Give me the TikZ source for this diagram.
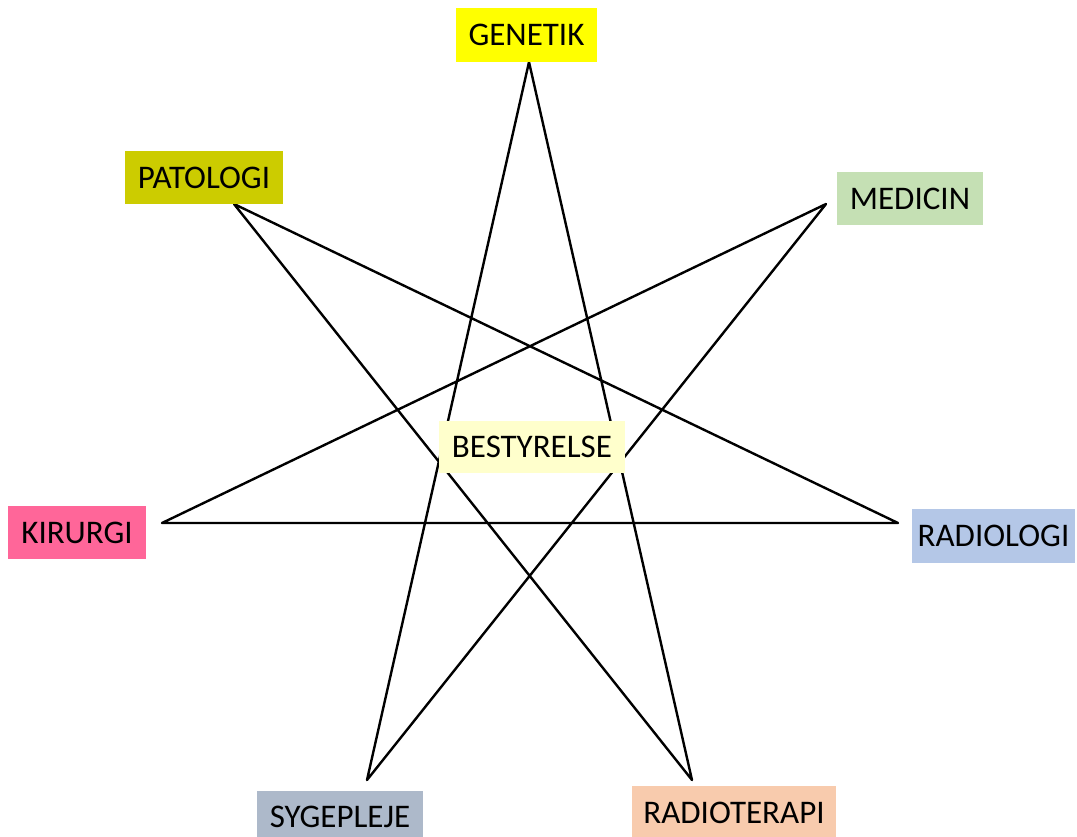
\documentclass[tikz,border=0pt]{standalone}
\usepackage{fontspec}
\setmainfont{Carlito}
\usepackage{xcolor}
\usetikzlibrary{positioning}

\definecolor{genetikfill}{HTML}{FFFF00}
\definecolor{patologifill}{HTML}{CCCC00}
\definecolor{medicinfill}{HTML}{C5E0B4}
\definecolor{kirurgifill}{HTML}{FF6699}
\definecolor{radiologifill}{HTML}{B4C7E7}
\definecolor{sygeplejefill}{HTML}{ADB9CA}
\definecolor{radioterapifill}{HTML}{F8CBAD}
\definecolor{bestyrelsefill}{HTML}{FFFFCC}

\begin{document}
\begin{tikzpicture}[x=1pt,y=-1pt]
  \tikzset{
    dept/.style={
      inner sep=0pt, text height=21pt, text depth=0pt,
      font=\fontsize{33}{38}\selectfont
    },
    starline/.style={line width=2.4pt, line join=round},
  }
  \useasboundingbox (0,0) rectangle (1077,836);

  \coordinate (top) at (529,62);
  \coordinate (ul) at (234,204);
  \coordinate (ur) at (826,204);
  \coordinate (l) at (162,523);
  \coordinate (r) at (898,523);
  \coordinate (bl) at (367,780);
  \coordinate (br) at (692,780);

  \draw[starline] (top) -- (bl) -- (ur) -- (l) -- (r) -- (ul) -- (br) -- cycle;

  \node[dept, fill=genetikfill, minimum width=141pt, minimum height=54pt]
    (genetik) at (526.5,35) {GENETIK};
  \node[dept, fill=patologifill, minimum width=158pt, minimum height=53pt]
    (patologi) at (204,177.5) {PATOLOGI};
  \node[dept, fill=medicinfill, minimum width=146pt, minimum height=53pt]
    (medicin) at (910,198.5) {MEDICIN};
  \node[dept, fill=kirurgifill, minimum width=138pt, minimum height=53pt]
    (kirurgi) at (77,532.5) {KIRURGI};
  \node[dept, fill=radiologifill, minimum width=163pt, minimum height=54pt]
    (radiologi) at (993.5,536) {RADIOLOGI};
  \node[dept, fill=sygeplejefill, minimum width=166pt, minimum height=52pt]
    (sygepleje) at (340,817) {SYGEPLEJE};
  \node[dept, fill=radioterapifill, minimum width=204pt, minimum height=53pt]
    (radioterapi) at (734,812.5) {RADIOTERAPI};
  \node[dept, fill=bestyrelsefill, minimum width=186pt, minimum height=52pt]
    (bestyrelse) at (532,447) {BESTYRELSE};
\end{tikzpicture}
\end{document}
